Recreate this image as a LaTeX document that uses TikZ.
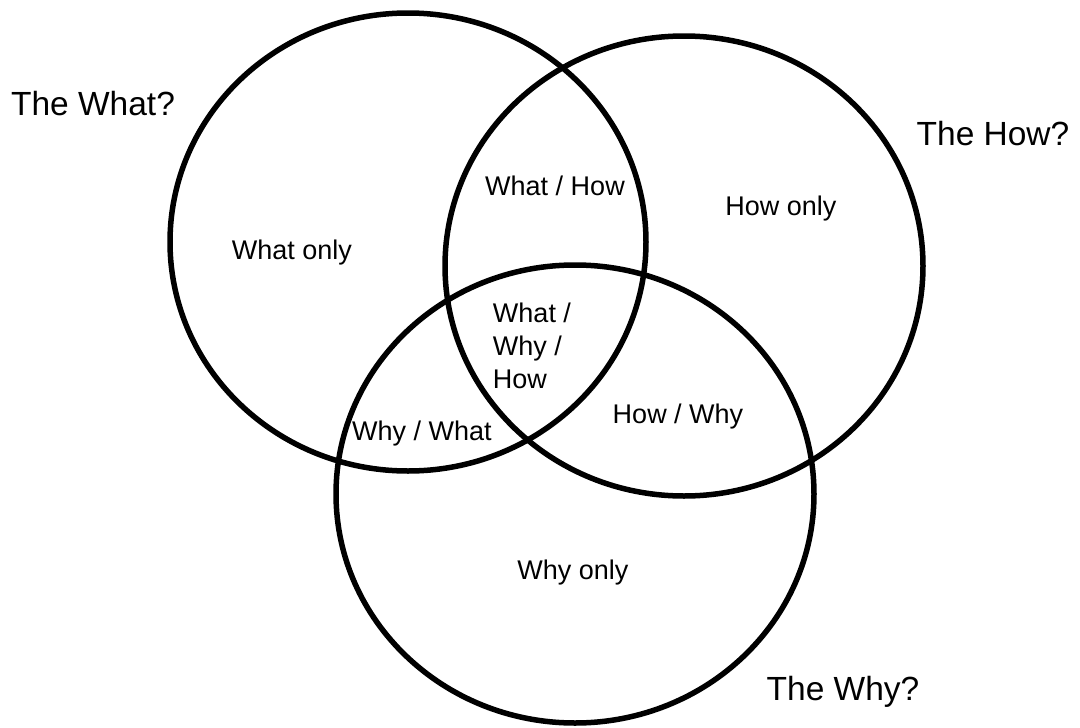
\documentclass[tikz,border=0pt]{standalone}
\usepackage{fontspec}
\setmainfont{Liberation Sans}
\usetikzlibrary{positioning}

\begin{document}
\begin{tikzpicture}[x=1pt, y=-1pt,
  ring/.style={draw=black, line width=5.5pt},
  setname/.style={font=\fontsize{33.5}{40}\selectfont},
  region/.style={font=\fontsize{27}{33}\selectfont, align=center},
]
  \useasboundingbox (0,0) rectangle (1080,728);

  % Circles
  \draw[ring] (408,242) ellipse [x radius=238pt, y radius=229pt];
  \draw[ring] (684,266) ellipse [x radius=239pt, y radius=230pt];
  \draw[ring] (575,494) ellipse [x radius=239pt, y radius=229pt];

  % Set names
  \node[setname] (what) at (93,104) {The What?};
  \node[setname] (how) at (993,134) {The How?};
  \node[setname] (why) at (843,692) {The Why?};

  % Regions
  \node[region] (whatonly) at (292,253) {What only};
  \node[region] (howonly) at (781,209) {How only};
  \node[region] (whyonly) at (573,573) {Why only};
  \node[region] (whathow) at (555,186) {What / How};
  \node[region] (whywhat) at (422,434) {Why / What};
  \node[region] (howwhy) at (678,417) {How / Why};
  \node[region, align=left] (all) at (532,346) {What /\\Why /\\How};
\end{tikzpicture}
\end{document}
